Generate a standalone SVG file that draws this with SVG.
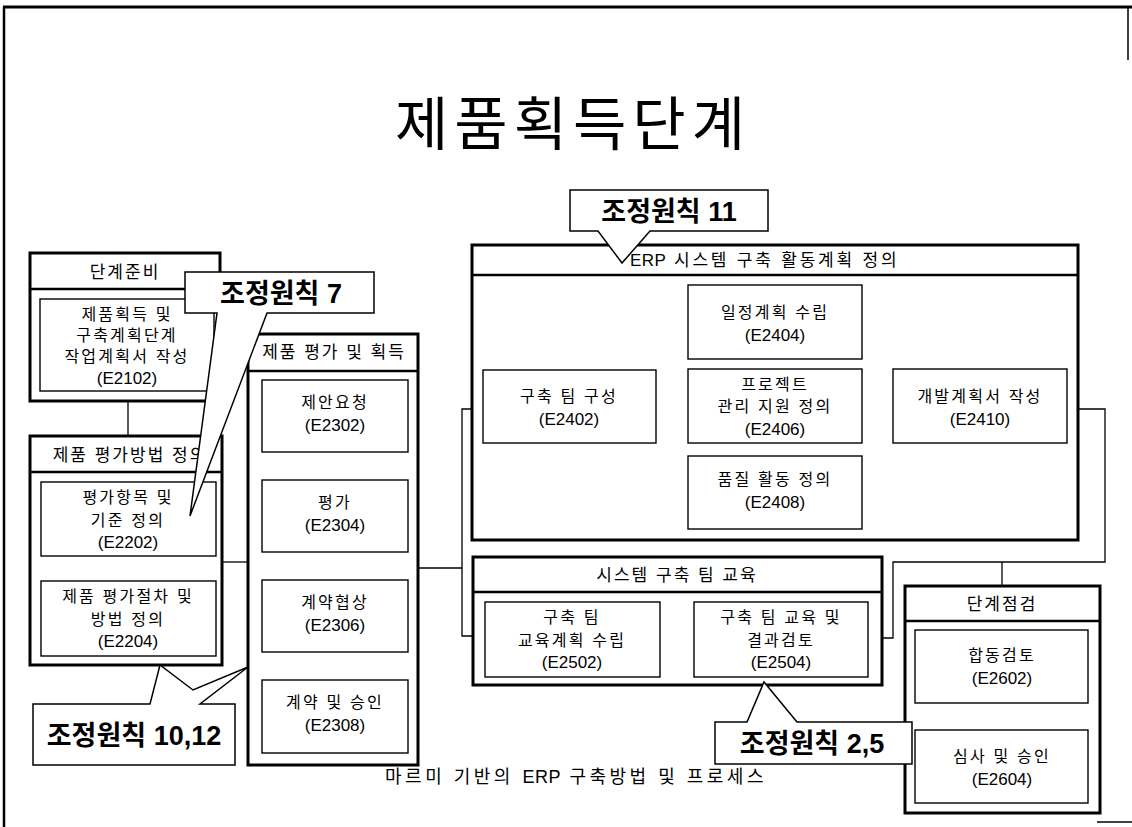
<svg xmlns="http://www.w3.org/2000/svg" width="1132" height="827" viewBox="0 0 1132 827">
<defs>
<style>
.outer{fill:#fff;stroke:#000;stroke-width:3}
.inner{fill:#fff;stroke:#000;stroke-width:1.4}
.div{stroke:#000;stroke-width:2.5;fill:none}
.conn{stroke:#000;stroke-width:1.3;fill:none}
.frame{stroke:#000;fill:none}
.callout{fill:#fff;stroke:#000;stroke-width:1.5;stroke-linejoin:miter}
text{font-family:"Liberation Sans","Noto Sans CJK KR",sans-serif;fill:#000;text-anchor:middle}
.k{font-size:16px;letter-spacing:2.2px}
.e{font-size:17px}
.h{font-size:17px;letter-spacing:2px}
.ct{font-size:27px;font-weight:bold}
.title{font-size:58px;letter-spacing:6px}
.cap{font-size:18px;letter-spacing:3.5px}
.lat{letter-spacing:0.5px}
</style>
</defs>
<rect width="1132" height="827" fill="#fff"/>
<g id="frame">
<line class="frame" x1="3" y1="7" x2="1132" y2="7" stroke-width="3"/>
<line class="frame" x1="4" y1="7" x2="4" y2="827" stroke-width="2.5"/>
<line class="frame" x1="1128" y1="7" x2="1128" y2="60" stroke-width="1.5"/>
<line class="frame" x1="1097" y1="822" x2="1132" y2="822" stroke-width="1.5"/>
</g>
<text class="title" x="573" y="145">제품획득단계</text>

<g id="connectors">
<line class="conn" x1="128" y1="401" x2="128" y2="437"/>
<line class="conn" x1="128" y1="556" x2="128" y2="581"/>
<line class="conn" x1="222" y1="562" x2="248" y2="562"/>
<line class="conn" x1="335" y1="452" x2="335" y2="480"/>
<line class="conn" x1="335" y1="552" x2="335" y2="580"/>
<line class="conn" x1="335" y1="652" x2="335" y2="680"/>
<polyline class="conn" points="418,568 462,568"/>
<polyline class="conn" points="472,409 462,409 462,636 472,636"/>
<line class="conn" x1="656" y1="406" x2="688" y2="406"/>
<polyline class="conn" points="688,322 672,322 672,492 688,492"/>
<polyline class="conn" points="862,322 878,322 878,492 862,492"/>
<line class="conn" x1="862" y1="406" x2="893" y2="406"/>
<line class="conn" x1="660" y1="640" x2="694" y2="640"/>
<polyline class="conn" points="1078,409 1105,409 1105,562 893,562 893,638 882,638"/>
<line class="conn" x1="1002" y1="562" x2="1002" y2="586"/>
<line class="conn" x1="1002" y1="703" x2="1002" y2="730"/>
</g>

<g id="prep">
<rect class="outer" x="30" y="253" width="190" height="148"/>
<line class="div" x1="30" y1="289" x2="220" y2="289"/>
<text class="h" x="125" y="278">단계준비</text>
<rect class="inner" x="40" y="299" width="174" height="92"/>
<text class="k" x="127" y="320">제품획득 및</text>
<text class="k" x="127" y="341">구축계획단계</text>
<text class="k" x="127" y="362">작업계획서 작성</text>
<text class="e" x="127" y="384">(E2102)</text>
</g>

<g id="evalmethod">
<rect class="outer" x="30" y="436" width="192" height="229"/>
<line class="div" x1="30" y1="472" x2="222" y2="472"/>
<text class="h" x="130" y="461">제품 평가방법 정의</text>
<rect class="inner" x="41" y="482" width="175" height="74"/>
<text class="k" x="128" y="503">평가항목 및</text>
<text class="k" x="128" y="526">기준 정의</text>
<text class="e" x="128" y="548">(E2202)</text>
<rect class="inner" x="41" y="581" width="175" height="75"/>
<text class="k" x="128" y="602">제품 평가절차 및</text>
<text class="k" x="128" y="625">방법 정의</text>
<text class="e" x="128" y="647">(E2204)</text>
</g>

<g id="evalacq">
<rect class="outer" x="248" y="334" width="170" height="431"/>
<line class="div" x1="248" y1="371" x2="418" y2="371"/>
<text class="h" x="334" y="358">제품 평가 및 획득</text>
<rect class="inner" x="262" y="380" width="146" height="72"/>
<text class="k" x="335" y="408">제안요청</text>
<text class="e" x="335" y="431">(E2302)</text>
<rect class="inner" x="262" y="480" width="146" height="72"/>
<text class="k" x="335" y="508">평가</text>
<text class="e" x="335" y="531">(E2304)</text>
<rect class="inner" x="262" y="580" width="146" height="72"/>
<text class="k" x="335" y="608">계약협상</text>
<text class="e" x="335" y="631">(E2306)</text>
<rect class="inner" x="262" y="680" width="146" height="73"/>
<text class="k" x="335" y="708">계약 및 승인</text>
<text class="e" x="335" y="731">(E2308)</text>
</g>

<g id="erpplan">
<rect class="outer" x="472" y="245" width="606" height="295"/>
<line class="div" x1="472" y1="275" x2="1078" y2="275"/>
<text class="h" x="630" y="266" style="text-anchor:start;letter-spacing:2.8px"><tspan class="lat">ERP</tspan> 시스템 구축 활동계획 정의</text>
<rect class="inner" x="483" y="370" width="173" height="73"/>
<text class="k" x="569" y="402">구축 팀 구성</text>
<text class="e" x="569" y="425">(E2402)</text>
<rect class="inner" x="688" y="285" width="174" height="74"/>
<text class="k" x="775" y="318">일정계획 수립</text>
<text class="e" x="775" y="341">(E2404)</text>
<rect class="inner" x="688" y="369" width="174" height="74"/>
<text class="k" x="775" y="390">프로젝트</text>
<text class="k" x="775" y="412">관리 지원 정의</text>
<text class="e" x="775" y="435">(E2406)</text>
<rect class="inner" x="688" y="456" width="174" height="73"/>
<text class="k" x="775" y="485">품질 활동 정의</text>
<text class="e" x="775" y="508">(E2408)</text>
<rect class="inner" x="893" y="369" width="174" height="74"/>
<text class="k" x="980" y="402">개발계획서 작성</text>
<text class="e" x="980" y="425">(E2410)</text>
</g>

<g id="training">
<rect class="outer" x="473" y="557" width="409" height="128"/>
<line class="div" x1="473" y1="592" x2="882" y2="592"/>
<text class="h" x="677" y="581">시스템 구축 팀 교육</text>
<rect class="inner" x="485" y="602" width="175" height="75"/>
<text class="k" x="572" y="623">구축 팀</text>
<text class="k" x="572" y="646">교육계획 수립</text>
<text class="e" x="572" y="668">(E2502)</text>
<rect class="inner" x="694" y="602" width="174" height="75"/>
<text class="k" x="781" y="623">구축 팀 교육 및</text>
<text class="k" x="781" y="646">결과검토</text>
<text class="e" x="781" y="668">(E2504)</text>
</g>

<g id="review">
<rect class="outer" x="905" y="586" width="195" height="227"/>
<line class="div" x1="905" y1="621" x2="1100" y2="621"/>
<text class="h" x="1002" y="610">단계점검</text>
<rect class="inner" x="915" y="630" width="173" height="73"/>
<text class="k" x="1002" y="661">합동검토</text>
<text class="e" x="1002" y="684">(E2602)</text>
<rect class="inner" x="915" y="730" width="173" height="73"/>
<text class="k" x="1002" y="762">심사 및 승인</text>
<text class="e" x="1002" y="785">(E2604)</text>
</g>

<g id="callout7">
<path class="callout" d="M185,272 H374 V313 H267 L190,516 L217,313 H185 Z"/>
<text class="ct" x="281" y="303">조정원칙 7</text>
</g>
<g id="callout11">
<path class="callout" d="M570,190 H768 V231 H650 L622,263 L598,231 H570 Z"/>
<text class="ct" x="669" y="221">조정원칙 11</text>
</g>
<g id="callout1012">
<path class="callout" d="M33,704 H150 L160,665 L193,690 L248,667 L200,704 H235 V765 H33 Z"/>
<text class="ct" x="134" y="745">조정원칙 10,12</text>
</g>
<g id="callout25">
<path class="callout" d="M715,722 H747 L764,682 L797,722 H912 V764 H715 Z"/>
<text class="ct" x="812" y="753">조정원칙 2,5</text>
</g>

<text class="cap" x="576" y="783">마르미 기반의 <tspan class="lat">ERP</tspan> 구축방법 및 프로세스</text>
</svg>
